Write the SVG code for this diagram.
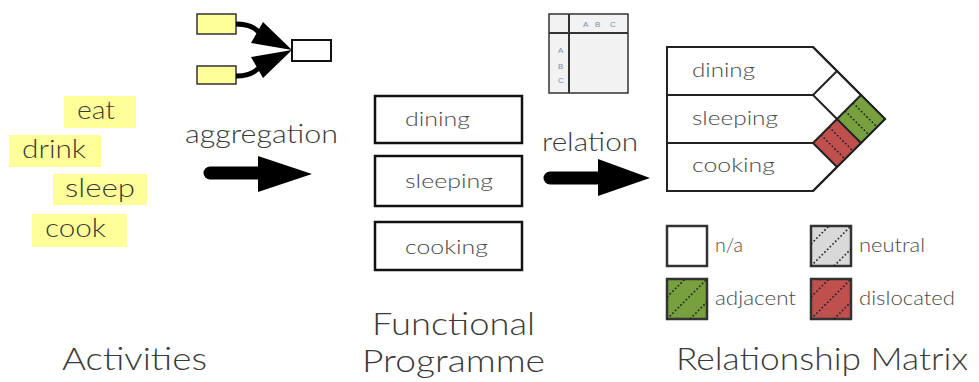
<svg xmlns="http://www.w3.org/2000/svg" width="979" height="382" viewBox="0 0 979 382">
  <style>
    text { font-family: "Lato", "Open Sans", "Liberation Sans", sans-serif; font-weight: 300; fill: #3a3a3a; }
    .word { font-size: 26px; }
    .lbl { font-size: 20px; fill: #4a4a4a; }
    .leg { font-size: 19px; fill: #4a4a4a; }
    .title { font-size: 31px; }
    .hl { fill: #ffff99; }
    .box { fill: #ffffff; stroke: #111; stroke-width: 2.5; }
    .edge { fill: none; stroke: #222; stroke-width: 2; }
    .hatch { stroke: #222; stroke-width: 1.6; stroke-dasharray: 1.6 2.2; fill: none; }
    .arrow { fill: #000; }
    .shaft { stroke: #000; stroke-width: 13; stroke-linecap: round; fill: none; }
    .tiny { font-size: 8px; fill: #7b8db0; font-family: "Liberation Sans", sans-serif; font-weight: 400; }
  </style>

  <!-- Activities: highlighted words -->
  <g id="activities">
    <rect class="hl" x="64" y="96" width="72" height="32"/>
    <text class="word" x="77" y="119" textLength="38" lengthAdjust="spacingAndGlyphs">eat</text>
    <rect class="hl" x="9" y="135" width="92" height="32"/>
    <text class="word" x="22" y="158" textLength="64" lengthAdjust="spacingAndGlyphs">drink</text>
    <rect class="hl" x="53" y="174" width="94" height="31"/>
    <text class="word" x="65" y="197" textLength="70" lengthAdjust="spacingAndGlyphs">sleep</text>
    <rect class="hl" x="32" y="214" width="95" height="33"/>
    <text class="word" x="45" y="237" textLength="61" lengthAdjust="spacingAndGlyphs">cook</text>
  </g>

  <!-- Aggregation icon -->
  <g id="aggregation-icon">
    <rect x="197" y="14" width="39" height="20" fill="#ffff99" stroke="#333" stroke-width="1.5"/>
    <rect x="197" y="66" width="39" height="18" fill="#ffff99" stroke="#333" stroke-width="1.5"/>
    <rect x="292" y="40" width="39" height="21" fill="#fff" stroke="#111" stroke-width="2"/>
    <path d="M236,24 Q254,24 261,35" fill="none" stroke="#000" stroke-width="5"/>
    <polygon class="arrow" points="263,22 292,50 251,43"/>
    <path d="M236,76 Q254,76 261,65" fill="none" stroke="#000" stroke-width="5"/>
    <polygon class="arrow" points="251,57 292,50 263,78"/>
  </g>

  <!-- Relation icon: empty matrix table -->
  <g id="relation-icon">
    <rect x="549" y="14" width="79" height="79" fill="#f2f2f2" stroke="#333" stroke-width="1.5"/>
    <line x1="549" y1="33" x2="628" y2="33" stroke="#333" stroke-width="2"/>
    <line x1="569" y1="14" x2="569" y2="93" stroke="#333" stroke-width="2"/>
    <text class="tiny" x="583" y="27">A</text>
    <text class="tiny" x="595" y="27">B</text>
    <text class="tiny" x="610" y="27">C</text>
    <text class="tiny" x="558" y="53">A</text>
    <text class="tiny" x="558" y="69">B</text>
    <text class="tiny" x="558" y="83">C</text>
  </g>

  <!-- Functional programme -->
  <g id="functional-programme">
    <rect class="box" x="375" y="96" width="147" height="47"/>
    <text class="lbl" x="405" y="126" textLength="65" lengthAdjust="spacingAndGlyphs">dining</text>
    <rect class="box" x="375" y="156" width="147" height="50"/>
    <text class="lbl" x="405" y="188" textLength="88" lengthAdjust="spacingAndGlyphs">sleeping</text>
    <rect class="box" x="375" y="222" width="147" height="48"/>
    <text class="lbl" x="405" y="254" textLength="83" lengthAdjust="spacingAndGlyphs">cooking</text>
  </g>

  <!-- Relationship matrix -->
  <g id="relationship-matrix">
    <polygon points="667,47 813,47 885,119 813,191 667,191" fill="#fff" stroke="#222" stroke-width="2"/>
    <polygon points="837,119 861,95 885,119 861,143" fill="#77a03f"/>
    <polygon points="813,143 837,119 861,143 837,167" fill="#c0504d"/>
    <line class="hatch" x1="845" y1="111" x2="869" y2="135"/>
    <line class="hatch" x1="853" y1="103" x2="877" y2="127"/>
    <line class="hatch" x1="821" y1="135" x2="845" y2="159"/>
    <line class="hatch" x1="829" y1="127" x2="853" y2="151"/>
    <line class="edge" x1="667" y1="95" x2="813" y2="95"/>
    <line class="edge" x1="667" y1="143" x2="813" y2="143"/>
    <line class="edge" x1="813" y1="95" x2="837" y2="71"/>
    <line class="edge" x1="813" y1="95" x2="861" y2="143"/>
    <line class="edge" x1="813" y1="143" x2="861" y2="95"/>
    <line class="edge" x1="813" y1="143" x2="837" y2="167"/>
    <polygon points="667,47 813,47 885,119 813,191 667,191" fill="none" stroke="#222" stroke-width="2"/>
    <text class="lbl" x="692" y="77" textLength="63" lengthAdjust="spacingAndGlyphs">dining</text>
    <text class="lbl" x="692" y="125" textLength="86" lengthAdjust="spacingAndGlyphs">sleeping</text>
    <text class="lbl" x="692" y="172" textLength="83" lengthAdjust="spacingAndGlyphs">cooking</text>
  </g>

  <!-- Legend -->
  <g id="legend">
    <rect x="667" y="226" width="40" height="40" fill="#fff" stroke="#333" stroke-width="2.5"/>
    <text class="leg" x="715" y="252" textLength="28" lengthAdjust="spacingAndGlyphs">n/a</text>

    <rect x="811" y="226" width="40" height="40" fill="#d9d9d9" stroke="#333" stroke-width="2.5"/>
    <line class="hatch" x1="811" y1="244" x2="829" y2="226"/>
    <line class="hatch" x1="811" y1="266" x2="851" y2="226"/>
    <line class="hatch" x1="834" y1="266" x2="851" y2="249"/>
    <text class="leg" x="859" y="252" textLength="66" lengthAdjust="spacingAndGlyphs">neutral</text>

    <rect x="667" y="279" width="40" height="40" fill="#77a03f" stroke="#333" stroke-width="2.5"/>
    <line class="hatch" x1="667" y1="297" x2="685" y2="279"/>
    <line class="hatch" x1="667" y1="319" x2="707" y2="279"/>
    <line class="hatch" x1="690" y1="319" x2="707" y2="302"/>
    <text class="leg" x="715" y="305" textLength="81" lengthAdjust="spacingAndGlyphs">adjacent</text>

    <rect x="811" y="279" width="40" height="40" fill="#c0504d" stroke="#333" stroke-width="2.5"/>
    <line class="hatch" x1="811" y1="297" x2="829" y2="279"/>
    <line class="hatch" x1="811" y1="319" x2="851" y2="279"/>
    <line class="hatch" x1="834" y1="319" x2="851" y2="302"/>
    <text class="leg" x="859" y="305" textLength="96" lengthAdjust="spacingAndGlyphs">dislocated</text>
  </g>

  <!-- Connectors: process arrows -->
  <g id="connectors">
    <text class="word" x="185" y="143" textLength="153" lengthAdjust="spacingAndGlyphs">aggregation</text>
    <line class="shaft" x1="210" y1="173" x2="262" y2="173"/>
    <polygon class="arrow" points="258,156 312,174 258,192"/>

    <text class="word" x="542" y="151" textLength="96" lengthAdjust="spacingAndGlyphs">relation</text>
    <line class="shaft" x1="550" y1="178" x2="602" y2="178"/>
    <polygon class="arrow" points="598,159 650,178 598,196"/>
  </g>

  <!-- Column titles -->
  <g id="titles">
    <text class="title" x="62" y="370" textLength="145" lengthAdjust="spacingAndGlyphs">Activities</text>
    <text class="title" x="372" y="335" textLength="163" lengthAdjust="spacingAndGlyphs">Functional</text>
    <text class="title" x="362" y="372" textLength="183" lengthAdjust="spacingAndGlyphs">Programme</text>
    <text class="title" x="676" y="370" textLength="292" lengthAdjust="spacingAndGlyphs">Relationship Matrix</text>
  </g>
</svg>
